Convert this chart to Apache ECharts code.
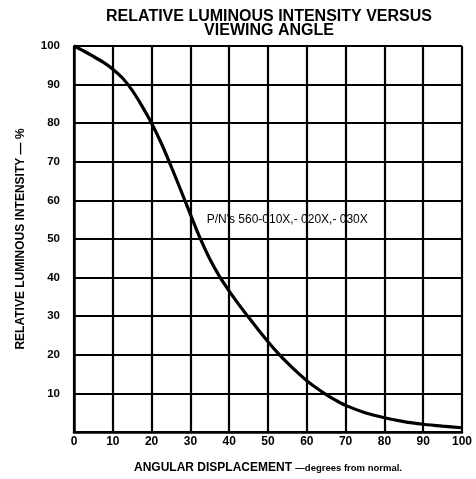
<!DOCTYPE html>
<html>
<head>
<meta charset="utf-8">
<script src="https://cdn.jsdelivr.net/npm/echarts@6/dist/echarts.min.js"></script>
<style>
html,body{margin:0;padding:0;background:#fff;}
#c{width:476px;height:479px;}
</style>
</head>
<body>
<div id="c"></div>
<script>
var angles = [0, 2.5, 5, 7.5, 10, 12.5, 15, 17.5, 20, 22.5, 25, 27.5, 30, 32.5, 35, 37.5, 40, 42.5, 45, 47.5, 50, 52.5, 55, 57.5, 60, 62.5, 65, 67.5, 70, 75, 80, 85, 90, 95, 100];
var intensity = [100, 98.7, 97.3, 95.8, 94.0, 91.7, 88.5, 84.5, 80, 74.8, 68.9, 62.7, 56.4, 50.2, 44.8, 40.3, 36.5, 33.0, 29.7, 26.5, 23.4, 20.5, 17.9, 15.5, 13.3, 11.4, 9.7, 8.2, 6.9, 5.0, 3.7, 2.7, 2.0, 1.5, 1.1];
var xTicks = [0, 10, 20, 30, 40, 50, 60, 70, 80, 90, 100];
var yTicks = [10, 20, 30, 40, 50, 60, 70, 80, 90, 100];
var titleText = 'RELATIVE LUMINOUS INTENSITY VERSUS\nVIEWING ANGLE';
var xName = 'ANGULAR DISPLACEMENT';
var xNameSuffix = '\u2014degrees from normal.';
var yName = 'RELATIVE LUMINOUS INTENSITY \u2014 %';
var partLabel = "P/N's 560-010X,- 020X,- 030X";
var partLabelAt = [34.2, 55];

var pts = angles.map(function (a, i) { return [a, intensity[i]]; });
var FF = '"Liberation Sans", Arial, sans-serif';

var chart = echarts.init(document.getElementById('c'));
chart.setOption({
  backgroundColor: '#fff',
  animation: false,
  title: {
    text: titleText,
    left: 264, top: 5, textAlign: 'center',
    textStyle: { fontFamily: FF, fontWeight: 'bold', fontSize: 16, lineHeight: 14, color: '#000' }
  },
  grid: { left: 74, right: 14, top: 46, bottom: 47 },
  xAxis: {
    type: 'value', min: 0, max: 100, interval: 10,
    name: '{c|' + xName + '} {s|' + xNameSuffix + '}',
    nameLocation: 'middle', nameGap: 30,
    nameTextStyle: { fontFamily: FF, fontWeight: 'bold', fontSize: 12, color: '#000',
      rich: {
        c: { fontFamily: FF, fontWeight: 'bold', fontSize: 12, color: '#000' },
        s: { fontFamily: FF, fontWeight: 'bold', fontSize: 9.5, color: '#000' } } },
    axisLine: { show: true, lineStyle: { color: '#000', width: 2.5 } },
    axisTick: { show: false },
    splitLine: { show: true, lineStyle: { color: '#000', width: 2.2 } },
    axisLabel: { fontFamily: FF, fontWeight: 'bold', fontSize: 12, color: '#000', margin: 4 }
  },
  yAxis: {
    type: 'value', min: 0, max: 100, interval: 10,
    name: yName, nameLocation: 'middle', nameGap: 47, nameRotate: 90,
    nameTextStyle: { fontFamily: FF, fontWeight: 'bold', fontSize: 12, color: '#000' },
    axisLine: { show: true, lineStyle: { color: '#000', width: 2.5 } },
    axisTick: { show: false },
    splitLine: { show: true, lineStyle: { color: '#000', width: 2.2 } },
    axisLabel: { fontFamily: FF, fontWeight: 'bold', fontSize: 11.5, color: '#000', margin: 14,
      formatter: function (v) { return yTicks.indexOf(v) >= 0 ? String(v) : ''; } }
  },
  series: [{
    type: 'line',
    data: pts,
    smooth: 0.3,
    showSymbol: false,
    lineStyle: { color: '#000', width: 3.2 },
    markPoint: {
      symbolSize: 0,
      silent: true,
      data: [{ coord: partLabelAt, value: partLabel }],
      label: { show: true, position: 'right', distance: 0, formatter: partLabel,
        fontFamily: FF, fontSize: 12, color: '#000' }
    },
    z: 5
  }]
});
</script>
</body>
</html>
